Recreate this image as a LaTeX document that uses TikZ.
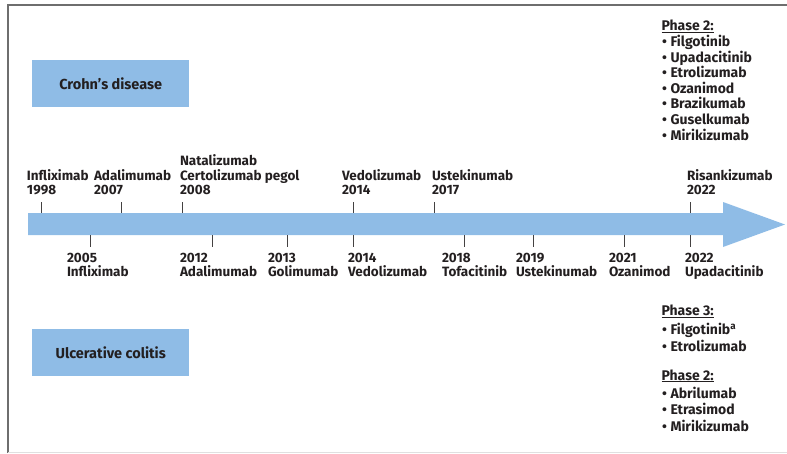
\documentclass[tikz,border=0pt]{standalone}
\usepackage{fontspec}
\setmainfont{Fira Sans}
\definecolor{barblue}{HTML}{8FBCE6}
\definecolor{ink}{HTML}{231F20}
\definecolor{framegray}{HTML}{6E6E6E}
\newcommand{\bul}{\makebox[9pt][l]{\hspace{0.5pt}•}}
\begin{document}
\begin{tikzpicture}[x=1pt,y=-1pt,
  lbl/.style={inner sep=0pt,outer sep=0pt,align=left,text=ink,
    font=\fontsize{13.5}{14.6}\selectfont\bfseries},
  lbld/.style={inner sep=0pt,outer sep=0pt,align=left,text=ink,
    font=\fontsize{13.5}{14}\selectfont\bfseries},
  item/.style={inner sep=0pt,outer sep=0pt,anchor=base west,text=ink,
    font=\fontsize{14}{16}\selectfont\bfseries},
  disbox/.style={fill=barblue,draw=none,minimum width=157pt,minimum height=47pt,
    inner sep=0pt,text=ink,font=\fontsize{14.5}{16}\selectfont\bfseries},
  tick/.style={draw=ink!85,line width=0.9pt}]
\useasboundingbox (0,0) rectangle (787,453);
% frame
\draw[framegray,line width=1.6pt] (8,453) -- (8,5) -- (787,5);
\draw[black!12,line width=0.6pt] (8,452) -- (787,452);
% disease boxes
\node[disbox,anchor=north west] (cd) at (32,60) {Crohn’s disease};
\node[disbox,anchor=north west] (uc) at (32,329) {Ulcerative colitis};
% arrow
\fill[barblue] (28,213) -- (723,213) -- (723,202) -- (785,224.5) -- (723,247) -- (723,235) -- (28,235) -- cycle;
% upper ticks
\foreach \x in {41,121,182,353,434,690} \draw[tick] (\x,202) -- (\x,213);
% lower ticks
\foreach \x in {90,212,287,353,464,533,624,690} \draw[tick] (\x,235) -- (\x,247);
% upper labels (baseline of last line at 195)
\node[lbl,anchor=south west] (u1) at (27,195) {Infliximab\\1998};
\node[lbl,anchor=south west] (u2) at (94,195) {Adalimumab\\2007};
\node[lbl,anchor=south west] (u3) at (180,195) {Natalizumab\\Certolizumab pegol\\2008};
\node[lbl,anchor=south west] (u4) at (342,195) {Vedolizumab\\2014};
\node[lbl,anchor=south west] (u5) at (432,195) {Ustekinumab\\2017};
\node[lbl,anchor=south west] (u6) at (687,195) {Risankizumab\\2022};
% lower labels (top of first line at 253.3)
\node[lbld,anchor=north west] (l1) at (67,253.3) {2005\\Infliximab};
\node[lbld,anchor=north west] (l2) at (180,253.3) {2012\\Adalimumab};
\node[lbld,anchor=north west] (l3) at (268,253.3) {2013\\Golimumab};
\node[lbld,anchor=north west] (l4) at (348,253.3) {2014\\Vedolizumab};
\node[lbld,anchor=north west] (l5) at (442,253.3) {2018\\Tofacitinib};
\node[lbld,anchor=north west] (l6) at (516,253.3) {2019\\Ustekinumab};
\node[lbld,anchor=north west] (l7) at (609,253.3) {2021\\Ozanimod};
\node[lbld,anchor=north west] (l8) at (685,253.3) {2022\\Upadacitinib};
% Crohn's pipeline
\node[item] (cdh) at (661.5,30.7) {\underline{Phase 2:}};
\foreach \t [count=\i from 0] in {Filgotinib,Upadacitinib,Etrolizumab,Ozanimod,Brazikumab,Guselkumab,Mirikizumab}
  \node[item] (cd\i) at (661.5,46.7+15.55*\i) {\bul\t};
% UC pipeline
\node[item] (uch3) at (661.5,315.7) {\underline{Phase 3:}};
\node[item] (uc30) at (661.5,334.3) {\bul Filgotinib\textsuperscript{a}};
\node[item] (uc31) at (661.5,351) {\bul Etrolizumab};
\node[item] (uch2) at (661.5,380) {\underline{Phase 2:}};
\foreach \t [count=\i from 0] in {Abrilumab,Etrasimod,Mirikizumab}
  \node[item] (uc2\i) at (661.5,398.3+16.35*\i) {\bul\t};
\end{tikzpicture}
\end{document}
